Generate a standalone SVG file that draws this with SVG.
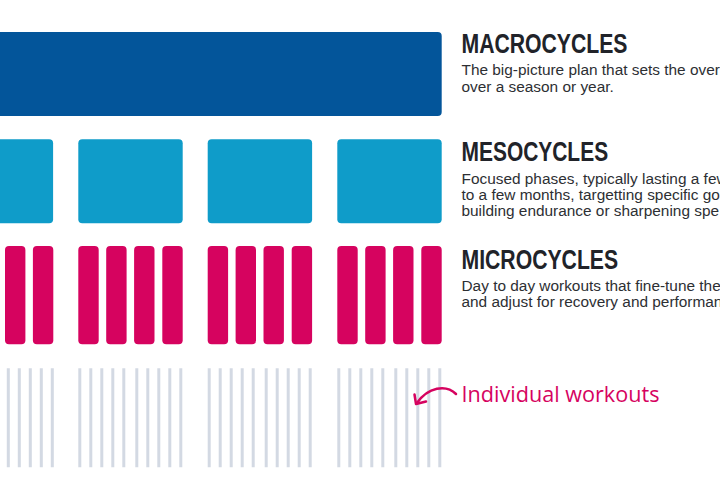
<svg xmlns="http://www.w3.org/2000/svg" width="720" height="500" viewBox="0 0 720 500">
<style>
.macro{fill:#03559a}
.meso{fill:#0f9cc9}
.micro{fill:#d6035f}
.wk{stroke:#d3d9e3;stroke-width:3}
.h{font-family:"Liberation Sans",Arial,sans-serif;font-weight:bold;font-size:27px;fill:#212329}
.b{font-family:"Liberation Sans",Arial,sans-serif;font-size:15.4px;fill:#2d2f33}
.hand{font-family:"Open Sans","Noto Sans",sans-serif;font-size:21px;fill:#d6035f}
.arr{fill:none;stroke:#d6035f;stroke-width:2.5;stroke-linecap:round;stroke-linejoin:round}
</style>
<rect width="720" height="500" fill="#ffffff"/>
<g id="macrocycle">
<rect class="macro" x="-10" y="32" width="451.7" height="84" rx="4"/>
</g>
<g id="mesocycles">
<rect class="meso" x="-51.3" y="139.3" width="104.4" height="84" rx="4"/>
<rect class="meso" x="78.3" y="139.3" width="104.4" height="84" rx="4"/>
<rect class="meso" x="207.7" y="139.3" width="104.4" height="84" rx="4"/>
<rect class="meso" x="337.3" y="139.3" width="104.4" height="84" rx="4"/>
</g>
<g id="microcycles">
<rect class="micro" x="5" y="246" width="20.4" height="98.3" rx="4"/>
<rect class="micro" x="32.9" y="246" width="20.4" height="98.3" rx="4"/>
<rect class="micro" x="78.3" y="246" width="20.4" height="98.3" rx="4"/>
<rect class="micro" x="106.2" y="246" width="20.4" height="98.3" rx="4"/>
<rect class="micro" x="134.1" y="246" width="20.4" height="98.3" rx="4"/>
<rect class="micro" x="162.3" y="246" width="20.4" height="98.3" rx="4"/>
<rect class="micro" x="207.7" y="246" width="20.4" height="98.3" rx="4"/>
<rect class="micro" x="235.6" y="246" width="20.4" height="98.3" rx="4"/>
<rect class="micro" x="263.5" y="246" width="20.4" height="98.3" rx="4"/>
<rect class="micro" x="291.7" y="246" width="20.4" height="98.3" rx="4"/>
<rect class="micro" x="337.3" y="246" width="20.4" height="98.3" rx="4"/>
<rect class="micro" x="365.2" y="246" width="20.4" height="98.3" rx="4"/>
<rect class="micro" x="393.1" y="246" width="20.4" height="98.3" rx="4"/>
<rect class="micro" x="421.3" y="246" width="20.4" height="98.3" rx="4"/>
</g>
<g id="workouts">
<path class="wk" d="M8.3 368.3V467.3M19.3 368.3V467.3M30.3 368.3V467.3M41.3 368.3V467.3M52.3 368.3V467.3"/>
<path class="wk" d="M79.8 368.3V467.3M90.8 368.3V467.3M101.8 368.3V467.3M112.8 368.3V467.3M123.8 368.3V467.3M136.8 368.3V467.3M147.8 368.3V467.3M158.8 368.3V467.3M169.8 368.3V467.3M180.8 368.3V467.3"/>
<path class="wk" d="M209.2 368.3V467.3M220.2 368.3V467.3M231.2 368.3V467.3M242.2 368.3V467.3M253.2 368.3V467.3M266.2 368.3V467.3M277.2 368.3V467.3M288.2 368.3V467.3M299.2 368.3V467.3M310.2 368.3V467.3"/>
<path class="wk" d="M338.8 368.3V467.3M349.8 368.3V467.3M360.8 368.3V467.3M371.8 368.3V467.3M382.8 368.3V467.3M395.8 368.3V467.3M406.8 368.3V467.3M417.8 368.3V467.3M428.8 368.3V467.3M439.8 368.3V467.3"/>
</g>
<g id="macro-label">
<text class="h" x="461.5" y="53.3" textLength="166" lengthAdjust="spacingAndGlyphs">MACROCYCLES</text>
<text class="b" x="461.5" y="75">The big-picture plan that sets the over</text>
<text class="b" x="461.5" y="91.5">over a season or year.</text>
</g>
<g id="meso-label">
<text class="h" x="461.5" y="161.3" textLength="146.6" lengthAdjust="spacingAndGlyphs">MESOCYCLES</text>
<text class="b" x="461.5" y="184">Focused phases, typically lasting a few</text>
<text class="b" x="461.5" y="200">to a few months, targetting specific go</text>
<text class="b" x="461.5" y="216">building endurance or sharpening spe</text>
</g>
<g id="micro-label">
<text class="h" x="461.5" y="269" textLength="156.6" lengthAdjust="spacingAndGlyphs">MICROCYCLES</text>
<text class="b" x="461.5" y="290.7">Day to day workouts that fine-tune the</text>
<text class="b" x="461.5" y="306.7">and adjust for recovery and performan</text>
</g>
<g id="workouts-label">
<text class="hand" x="461.5" y="401.7" textLength="198" lengthAdjust="spacingAndGlyphs">Individual workouts</text>
</g>
<g id="connectors">
<path class="arr" d="M456 394 C446 384 428 387 417 403"/>
<path class="arr" d="M414.5 394.5 L416 404 L426 401.5"/>
</g>
</svg>
